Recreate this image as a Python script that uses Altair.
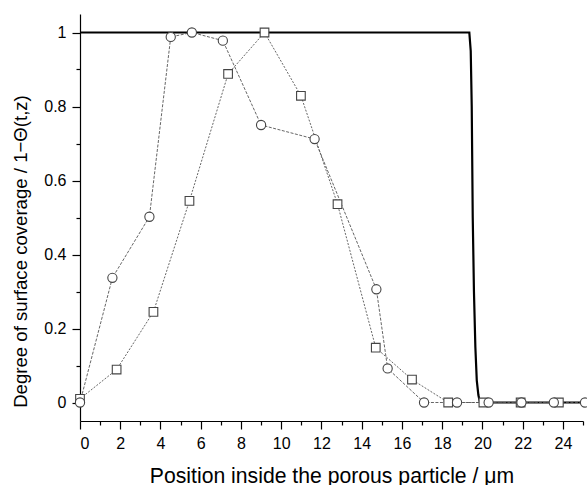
import altair as alt
import pandas as pd

# Circle series
circ_x = [0, 1.61, 3.45, 4.51, 5.56, 7.1, 9.0, 11.66, 14.73, 15.29, 17.1, 18.74, 20.31, 21.94, 23.55, 25.1]
circ_y = [0, 0.337, 0.502, 0.988, 1.0, 0.978, 0.75, 0.712, 0.306, 0.092, 0, 0, 0, 0, 0, 0]

# Square series
sq_x = [0, 1.82, 3.65, 5.44, 7.36, 9.17, 10.98, 12.8, 14.7, 16.5, 18.3, 20.05, 21.9, 23.8]
sq_y = [0.01, 0.089, 0.245, 0.545, 0.888, 1.0, 0.829, 0.536, 0.148, 0.062, 0, 0, 0, 0]

# Sharp front profile (thick black line)
prof_x = [0, 19.35, 19.42, 19.47, 19.52, 19.58, 19.65, 19.72, 19.8, 19.88, 25.2]
prof_y = [1, 1, 0.95, 0.8, 0.5, 0.3, 0.15, 0.06, 0.02, 0, 0]

x_major = [0, 2, 4, 6, 8, 10, 12, 14, 16, 18, 20, 22, 24]
x_minor = [1, 3, 5, 7, 9, 11, 13, 15, 17, 19, 21, 23, 25]
y_major = [0, 0.2, 0.4, 0.6, 0.8, 1.0]
y_minor = [0.1, 0.3, 0.5, 0.7, 0.9]

circ = pd.DataFrame({"x": circ_x, "y": circ_y})
sq = pd.DataFrame({"x": sq_x, "y": sq_y})
prof = pd.DataFrame({"x": prof_x, "y": prof_y})

FONT = "Liberation Sans"
xs = alt.Scale(domain=[0, 25], nice=False, zero=False)
ys = alt.Scale(domain=[-0.05, 1.05], nice=False, zero=False)

common_axis = dict(domainColor="black", tickColor="black", labelColor="black",
                   titleColor="black", grid=False, labelFont=FONT, titleFont=FONT,
                   domainWidth=1.2, tickWidth=1.2)

x_main = alt.Axis(values=x_major, tickSize=8, labelFontSize=16, titleFontSize=21.2,
                  titleFontWeight="normal", labelPadding=6, titlePadding=14,
                  title="Position inside the porous particle / \u03bcm", orient="bottom",
                  **common_axis)
y_main = alt.Axis(values=y_major, format=".1~f", tickSize=8, labelFontSize=16, titleFontSize=18.6,
                  titleFontWeight="normal", labelPadding=6,
                  title="Degree of surface coverage / 1\u2212\u0398(t,z)", orient="left",
                  titleX=-50, titleY=237, titleAlign="center", titleBaseline="bottom",
                  titleAngle=270,
                  **common_axis)
x_min = alt.Axis(values=x_minor, tickSize=4, labels=False, domain=False, title=None,
                 orient="bottom", tickColor="black", tickWidth=1.2, grid=False)
y_min = alt.Axis(values=y_minor, tickSize=4, labels=False, domain=False, title=None,
                 orient="left", tickColor="black", tickWidth=1.2, grid=False)

profile = alt.Chart(prof).mark_line(color="black", strokeWidth=2.2).encode(
    x=alt.X("x:Q", scale=xs, axis=x_main),
    y=alt.Y("y:Q", scale=ys, axis=y_main),
)

circ_line = alt.Chart(circ).mark_line(color="#555555", strokeWidth=0.9, strokeDash=[3, 1.5]).encode(
    x=alt.X("x:Q", scale=xs, axis=x_min),
    y=alt.Y("y:Q", scale=ys, axis=y_min),
)
sq_line = alt.Chart(sq).mark_line(color="#555555", strokeWidth=0.9, strokeDash=[2, 1.5]).encode(
    x=alt.X("x:Q", scale=xs, axis=None),
    y=alt.Y("y:Q", scale=ys, axis=None),
)
sq_pts = alt.Chart(sq).mark_point(shape="square", size=75, filled=True, fill="white",
                                  stroke="#444444", strokeWidth=1.1, opacity=1).encode(
    x=alt.X("x:Q", scale=xs, axis=None),
    y=alt.Y("y:Q", scale=ys, axis=None),
)
circ_pts = alt.Chart(circ).mark_point(shape="circle", size=85, filled=True, fill="white",
                                      stroke="#444444", strokeWidth=1.1, opacity=1).encode(
    x=alt.X("x:Q", scale=xs, axis=None),
    y=alt.Y("y:Q", scale=ys, axis=None),
)

chart = alt.layer(profile, circ_line, sq_line, sq_pts, circ_pts).resolve_axis(
    x="independent", y="independent"
).properties(
    width=503, height=407,
    autosize=alt.AutoSizeParams(type="none"),
    padding={"left": 80, "top": 14, "right": 4, "bottom": 64},
    background="white",
).configure_view(stroke=None)

chart.save("out.html", embed_options={"renderer": "svg", "actions": False})
